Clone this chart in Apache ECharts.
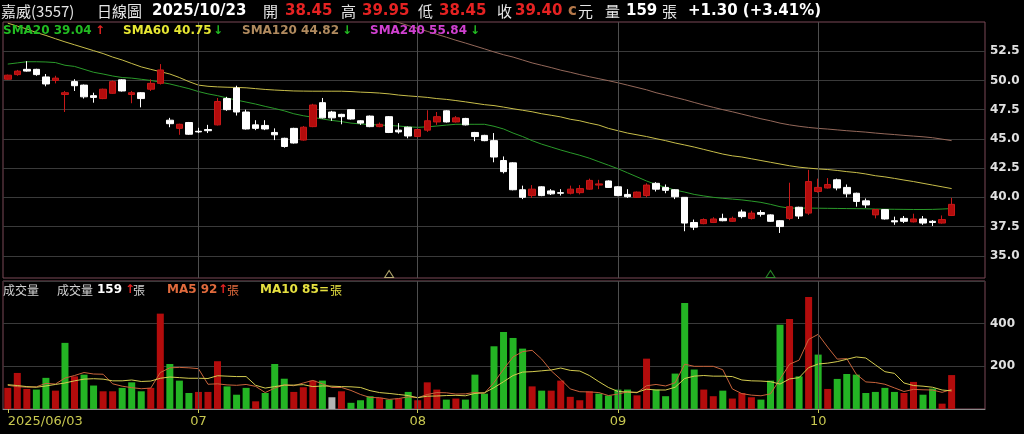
<!DOCTYPE html>
<html><head><meta charset="utf-8">
<script src="https://cdn.jsdelivr.net/npm/echarts@6/dist/echarts.min.js"></script>
<style>html,body{margin:0;padding:0;background:#000;}#c{width:1024px;height:434px;}</style>
</head><body><div id="c"></div>
<script>
const dates = [
'2025/06/03','2025/06/04','2025/06/05','2025/06/06','2025/06/09','2025/06/10','2025/06/11','2025/06/12','2025/06/13','2025/06/16',
'2025/06/17','2025/06/18','2025/06/19','2025/06/20','2025/06/23','2025/06/24','2025/06/25','2025/06/26','2025/06/27','2025/06/30',
'2025/07/01','2025/07/02','2025/07/03','2025/07/04','2025/07/07','2025/07/08','2025/07/09','2025/07/10','2025/07/11','2025/07/14',
'2025/07/15','2025/07/16','2025/07/17','2025/07/18','2025/07/21','2025/07/22','2025/07/23','2025/07/24','2025/07/25','2025/07/28',
'2025/07/29','2025/07/30','2025/07/31','2025/08/01','2025/08/04','2025/08/05','2025/08/06','2025/08/07','2025/08/08','2025/08/11',
'2025/08/12','2025/08/13','2025/08/14','2025/08/15','2025/08/18','2025/08/19','2025/08/20','2025/08/21','2025/08/22','2025/08/25',
'2025/08/26','2025/08/27','2025/08/28','2025/08/29','2025/09/01','2025/09/02','2025/09/03','2025/09/04','2025/09/05','2025/09/08',
'2025/09/09','2025/09/10','2025/09/11','2025/09/12','2025/09/15','2025/09/16','2025/09/17','2025/09/18','2025/09/19','2025/09/22',
'2025/09/23','2025/09/24','2025/09/25','2025/09/26','2025/09/30','2025/10/01','2025/10/02','2025/10/03','2025/10/07','2025/10/08',
'2025/10/09','2025/10/13','2025/10/14','2025/10/15','2025/10/16','2025/10/17','2025/10/20','2025/10/21','2025/10/22','2025/10/23'];
const padSlots = ['_1','_2','_3'];

const opens = [
50.1,50.5,50.95,50.95,50.3,50.0,48.8,49.9,49.6,48.7,
48.45,48.9,50.05,48.8,48.95,49.25,49.75,46.6,45.9,46.4,
45.65,45.8,46.2,48.45,49.35,47.3,46.2,46.15,45.55,45.05,
45.9,44.9,46.05,48.1,47.3,47.1,47.5,46.55,46.95,46.05,
46.9,45.75,46.0,45.2,45.75,46.45,47.4,46.45,46.75,45.55,
45.3,44.85,43.15,42.95,40.65,40.15,40.9,40.55,40.4,40.35,
40.4,40.7,41.05,41.4,40.9,40.25,40.0,40.15,41.2,40.85,
40.65,40.0,37.85,37.75,37.85,38.2,37.95,38.75,38.2,38.7,
38.5,38.0,38.2,39.15,38.65,40.5,40.8,41.5,40.85,40.35,
39.7,38.5,38.95,38.0,38.2,37.9,38.15,37.95,37.8,38.45];
const closes = [
50.45,50.8,50.8,50.5,49.7,50.2,48.95,49.55,48.6,48.55,
49.25,49.9,49.1,48.95,48.45,49.75,50.9,46.3,46.25,45.4,
45.6,45.7,48.2,47.5,47.3,45.85,45.9,45.85,45.35,44.35,
44.65,46.0,47.9,46.8,46.8,46.9,46.7,46.35,46.05,46.25,
45.55,45.6,45.25,45.8,46.55,46.9,46.45,46.8,46.2,45.2,
44.85,43.45,42.2,40.65,40.0,40.7,40.15,40.3,40.35,40.7,
40.75,41.45,41.15,40.85,40.15,40.05,40.45,41.05,40.7,40.6,
40.05,37.8,37.45,38.1,38.15,38.0,38.2,38.35,38.65,38.55,
37.95,37.5,39.2,38.4,41.35,40.85,41.1,40.8,40.3,39.65,
39.35,38.95,38.15,37.9,37.95,38.15,37.8,37.85,38.1,39.4];
const lows = [
50.05,50.4,50.75,50.4,49.5,49.75,47.3,49.1,48.45,48.1,
48.4,48.85,49.05,48.05,47.7,49.1,49.65,46.0,45.35,45.35,
45.5,45.5,46.15,47.4,47.0,45.8,45.75,45.75,44.9,44.25,
44.6,44.85,46.0,46.75,46.55,46.25,46.65,46.2,46.0,46.0,
45.5,45.45,45.05,45.15,45.6,46.2,46.4,46.4,46.15,44.8,
44.8,43.0,42.05,40.6,39.85,39.95,40.1,40.2,40.15,40.25,
40.25,40.65,40.7,40.8,40.1,39.95,39.95,40.0,40.5,40.35,
39.85,37.1,37.2,37.7,37.8,37.95,37.9,38.2,38.1,38.35,
37.9,36.95,38.05,38.15,38.5,40.4,40.75,40.6,40.0,39.2,
39.1,38.2,38.1,37.65,37.8,37.85,37.65,37.55,37.75,38.4];
const highs = [
50.5,50.9,51.65,51.0,50.55,50.4,49.1,50.1,49.65,48.95,
49.3,50.0,50.1,49.1,49.0,50.1,51.4,46.8,46.3,46.45,
45.95,46.2,48.5,48.6,49.55,47.5,46.6,46.6,45.9,45.1,
45.95,46.1,48.0,48.5,47.4,47.15,47.55,46.6,47.0,46.4,
46.95,46.35,46.05,45.85,47.45,47.3,47.45,46.95,46.8,45.6,
45.35,45.5,43.5,43.0,41.0,41.05,40.95,40.7,40.7,41.0,
41.05,41.6,41.5,41.45,40.95,40.7,40.5,41.2,41.3,41.1,
40.7,40.0,38.1,38.2,38.3,38.6,38.35,38.95,38.85,38.9,
38.55,38.05,41.25,39.2,42.35,41.6,41.65,41.6,41.1,40.4,
39.9,39.0,39.0,38.35,38.4,38.6,38.4,38.05,38.45,39.95];

const sma20 = [
51.4,51.5,51.6,51.6,51.58,51.53,51.3,51.2,50.95,50.7,
50.55,50.38,50.25,50.2,50.1,50.0,49.85,49.7,49.5,49.3,
49.05,48.85,48.7,48.5,48.32,48.15,47.98,47.78,47.6,47.4,
47.15,46.98,46.85,46.7,46.58,46.48,46.35,46.28,46.22,46.19,
46.15,46.1,46.03,45.99,46.03,46.1,46.18,46.25,46.25,46.25,
46.25,46.08,45.85,45.5,45.2,44.85,44.55,44.3,44.05,43.82,
43.6,43.35,43.05,42.75,42.45,42.1,41.75,41.4,41.1,40.85,
40.62,40.45,40.25,40.12,40.0,39.92,39.85,39.78,39.68,39.57,
39.4,39.2,39.08,39.08,39.08,39.07,39.06,39.05,39.04,39.03,
39.02,39.0,38.99,38.98,38.97,38.96,38.96,38.97,39.0,39.04];
const sma60 = [
54.9,54.65,54.4,54.1,53.85,53.57,53.3,53.05,52.8,52.55,
52.3,52.0,51.75,51.45,51.16,50.95,50.75,50.55,50.25,49.9,
49.6,49.5,49.45,49.42,49.4,49.37,49.3,49.23,49.18,49.14,
49.1,49.09,49.08,49.08,49.08,49.08,49.05,49.0,48.97,48.92,
48.85,48.75,48.68,48.62,48.55,48.45,48.38,48.28,48.17,48.05,
47.93,47.85,47.72,47.58,47.45,47.32,47.15,47.02,46.88,46.68,
46.55,46.35,46.18,45.9,45.7,45.5,45.35,45.2,45.02,44.85,
44.65,44.48,44.3,44.1,43.9,43.7,43.55,43.45,43.3,43.15,
43.0,42.85,42.7,42.58,42.5,42.43,42.38,42.3,42.2,42.12,
42.0,41.85,41.75,41.62,41.48,41.35,41.2,41.05,40.9,40.75];
const sma120 = [
null,null,null,null,null,null,null,null,null,null,
null,null,null,null,null,null,null,null,null,null,
null,null,null,null,null,null,null,null,null,null,
null,null,null,null,null,null,null,null,null,null,
55.2,54.95,54.7,54.45,54.2,53.95,53.7,53.44,53.2,52.95,
52.7,52.44,52.2,52.0,51.75,51.5,51.3,51.1,50.88,50.7,
50.5,50.32,50.15,49.98,49.8,49.6,49.4,49.2,48.95,48.75,
48.55,48.35,48.12,47.9,47.7,47.5,47.32,47.12,46.92,46.72,
46.55,46.35,46.2,46.08,45.98,45.9,45.84,45.77,45.7,45.64,
45.58,45.5,45.43,45.37,45.3,45.24,45.18,45.1,44.98,44.85];

const volumes = [
99,169,94,91,146,86,310,153,161,110,
83,83,99,125,83,99,447,211,133,75,
80,80,224,106,67,99,36,75,211,142,
80,102,133,133,55,83,29,41,60,52,
44,49,80,41,125,91,44,49,44,161,
72,294,361,333,283,106,86,86,133,57,
41,83,72,63,91,91,64,236,91,60,
166,497,185,91,60,86,49,75,55,44,
133,395,422,153,525,255,94,141,164,161,
75,80,99,80,75,127,67,96,25,159];
const volDir = ('uuuddududd'+'uuddduuddd'+'uuuddduddd'+'uuudfudddu'+'duduuududd'+
                'ddddduduuu'+'uudddduudd'+'ddduuduuud'+'ddudududdd'+'dddduudduu').split('');
const volMa5 = [
111,105,102,104,120,117,145,157,171,164,
163,118,107,100,95,98,171,193,195,193,
189,116,118,113,111,115,106,77,98,113,
109,122,134,118,101,101,87,68,54,53,
45,49,57,53,68,77,76,70,71,78,
74,124,186,244,269,275,234,179,139,94,
81,80,77,63,70,80,76,109,115,108,
123,210,200,200,200,184,94,72,65,62,
71,140,210,229,326,350,290,234,236,163,
127,124,116,99,82,92,90,89,78,92];
const volMa10 = [
114,110,105,102,108,115,122,132,140,142,
140,132,132,136,129,131,144,150,147,144,
144,143,156,154,152,152,111,98,105,112,
112,114,105,108,107,105,104,101,86,77,
73,68,63,53,60,61,63,64,62,73,
76,100,128,157,173,175,179,183,192,181,
178,157,128,101,82,80,78,93,89,89,
102,143,154,157,154,154,152,136,132,131,
128,117,141,147,194,211,215,222,233,244,
239,207,175,167,122,110,107,102,89,85];

const priceTicks = [35, 37.5, 40, 42.5, 45, 47.5, 50, 52.5];
const monthStarts = ['2025/06/03','2025/07/01','2025/08/01','2025/09/01','2025/10/01'];
const monthLabels = ['2025/06/03','07','08','09','10'];
const monthLines = ['2025/07/01','2025/08/01','2025/09/01','2025/10/01'];
const signalDates = ['2025/07/29','2025/09/23'];
const signalKinds = ['a','b'];

const PRICE_MIN = 33.1, PRICE_MAX = 55;
const cats = dates.concat(padSlots);
const RED = '#b30c0c', WHITE = '#ffffff', VGREEN = '#24b424';
const volColor = {u: '#b30c0c', d: '#24b424', f: '#b4b4b4'};
const sigColor = {a: '#d8cc84', b: '#2fa52f'};
const NUM = '"DejaVu Sans", Verdana, sans-serif';
const CJK = '"Noto Sans CJK TC", "Noto Sans CJK SC", sans-serif';

const chart = echarts.init(document.getElementById('c'), null, {renderer: 'canvas'});

function txt(x, y, text, fill, size, bold, fam) {
  return {type: 'text', x: x, y: y, silent: true, z: 100,
    style: {text: text, fill: fill, font: (bold ? 'bold ' : '') + size + 'px ' + (fam || NUM), verticalAlign: 'middle'}};
}
const HR = '#e52222';
const graphics = [
  txt(1, 11, '嘉威(3557)', '#e6e6e6', 15, false, CJK),
  txt(97, 11, '日線圖', '#e6e6e6', 15, false, CJK),
  txt(152, 11, '2025/10/23', '#ffffff', 15, true),
  txt(263, 11, '開', '#e6e6e6', 15, false, CJK),
  txt(285, 11, '38.45', HR, 15, true),
  txt(341, 11, '高', '#e6e6e6', 15, false, CJK),
  txt(362, 11, '39.95', HR, 15, true),
  txt(418, 11, '低', '#e6e6e6', 15, false, CJK),
  txt(439, 11, '38.45', HR, 15, true),
  txt(497, 11, '收', '#e6e6e6', 15, false, CJK),
  txt(515, 11, '39.40', HR, 15, true),
  txt(568, 11, 'c', '#b4784a', 15, true),
  txt(578, 11, '元', '#e6e6e6', 15, false, CJK),
  txt(605, 11, '量', '#e6e6e6', 15, false, CJK),
  txt(626, 11, '159', '#ffffff', 15, true),
  txt(662, 11, '張', '#e6e6e6', 15, false, CJK),
  txt(688, 11, '+1.30 (+3.41%)', '#ffffff', 15, true),

  txt(3, 31, 'SMA20 39.04', '#22bb22', 12, true),
  txt(95, 31, '↑', HR, 12, true),
  txt(123, 31, 'SMA60 40.75', '#e6e632', 12, true),
  txt(213, 31, '↓', '#22bb22', 12, true),
  txt(242, 31, 'SMA120 44.82', '#b08a5e', 12, true),
  txt(342, 31, '↓', '#22bb22', 12, true),
  txt(370, 31, 'SMA240 55.84', '#d040d0', 12, true),
  txt(470, 31, '↓', '#22bb22', 12, true),

  txt(3, 290, '成交量', '#d2d2d2', 12, false, CJK),
  txt(57, 290, '成交量', '#d2d2d2', 12, false, CJK),
  txt(97, 290, '159', '#ffffff', 12, true),
  txt(125, 290, '↑', HR, 12, true),
  txt(133, 290, '張', '#d2d2d2', 12, false, CJK),
  txt(167, 290, 'MA5 92', '#e06a3c', 12, true),
  txt(218, 290, '↑', HR, 12, true),
  txt(227, 290, '張', '#e06a3c', 12, false, CJK),
  txt(260, 290, 'MA10 85', '#e6e040', 12, true),
  txt(319, 290, '=', '#e6e040', 12, true),
  txt(330, 290, '張', '#e6e040', 12, false, CJK)
];

const monthMarkLine = {
  silent: true, symbol: 'none', label: {show: false},
  lineStyle: {color: '#4e4e4e', width: 1, type: 'solid'},
  emphasis: {disabled: true},
  data: monthLines.map(d => ({xAxis: d}))
};

const option = {
  backgroundColor: '#000000',
  animation: false,
  graphic: graphics,
  grid: [
    {left: 3, right: 39, top: 22, height: 256, show: true, borderColor: '#7a4856', borderWidth: 1, backgroundColor: 'transparent'},
    {left: 3, right: 39, top: 281, height: 128, show: true, borderColor: '#7a4856', borderWidth: 1, backgroundColor: 'transparent'}
  ],
  xAxis: [
    {type: 'category', gridIndex: 0, data: cats, boundaryGap: true,
     axisLine: {show: false}, axisTick: {show: false}, axisLabel: {show: false}, splitLine: {show: false}},
    {type: 'category', gridIndex: 1, data: cats, boundaryGap: true,
     axisLine: {show: true, lineStyle: {color: '#8a8a8a', width: 1}},
     axisTick: {show: true, alignWithLabel: true, length: 4, lineStyle: {color: '#c8c850'},
       interval: (i, v) => monthStarts.indexOf(v) >= 0},
     axisLabel: {show: true, color: '#c8c850', fontSize: 13, fontFamily: NUM, margin: 6,
       alignMinLabel: 'left',
       interval: (i, v) => monthStarts.indexOf(v) >= 0,
       formatter: v => { const k = monthStarts.indexOf(v); return k >= 0 ? monthLabels[k] : ''; }},
     splitLine: {show: false}}
  ],
  yAxis: [
    {type: 'value', gridIndex: 0, position: 'right', min: PRICE_MIN, max: PRICE_MAX, scale: true,
     axisLine: {show: false}, axisTick: {show: false, customValues: priceTicks},
     axisLabel: {show: true, customValues: priceTicks, color: '#e0e0e0', fontSize: 12, fontWeight: 'bold', fontFamily: NUM, margin: 5,
       formatter: v => Number(v).toFixed(1)},
     splitLine: {show: true, lineStyle: {color: '#3a3a3a', width: 1}}},
    {type: 'value', gridIndex: 1, position: 'right', min: 0, max: 600, interval: 200,
     axisLine: {show: false}, axisTick: {show: false},
     axisLabel: {show: true, color: '#e0e0e0', fontSize: 12, fontWeight: 'bold', fontFamily: NUM, margin: 5,
       showMinLabel: false, showMaxLabel: false},
     splitLine: {show: true, lineStyle: {color: '#3a3a3a', width: 1}}}
  ],
  series: [
    {type: 'candlestick', name: 'K', xAxisIndex: 0, yAxisIndex: 0, barWidth: 7,
     data: dates.map((d, i) => [opens[i], closes[i], lows[i], highs[i]]),
     itemStyle: {color: RED, color0: WHITE, borderColor: '#c81818', borderColor0: WHITE, borderWidth: 1},
     markLine: monthMarkLine, z: 5},
    {type: 'line', name: 'SMA20', xAxisIndex: 0, yAxisIndex: 0, data: sma20, showSymbol: false,
     lineStyle: {color: '#2a9a2a', width: 1}, z: 3},
    {type: 'line', name: 'SMA60', xAxisIndex: 0, yAxisIndex: 0, data: sma60, showSymbol: false,
     lineStyle: {color: '#c8be4a', width: 1}, z: 3},
    {type: 'line', name: 'SMA120', xAxisIndex: 0, yAxisIndex: 0, data: sma120, showSymbol: false,
     lineStyle: {color: '#94685a', width: 1}, z: 3},
    {type: 'scatter', name: 'signal', xAxisIndex: 0, yAxisIndex: 0, clip: false,
     symbol: 'triangle', symbolSize: [9, 7], symbolOffset: [0, -4],
     data: signalDates.map((d, i) => ({value: [d, PRICE_MIN],
       itemStyle: {color: 'rgba(0,0,0,0)', borderColor: sigColor[signalKinds[i]], borderWidth: 1}})), z: 6},
    {type: 'bar', name: 'VOL', xAxisIndex: 1, yAxisIndex: 1, barWidth: 7,
     data: volumes.map((v, i) => ({value: v, itemStyle: {color: volColor[volDir[i]]}})),
     markLine: monthMarkLine, z: 2},
    {type: 'line', name: 'MA5', xAxisIndex: 1, yAxisIndex: 1, data: volMa5, showSymbol: false,
     lineStyle: {color: '#c8643c', width: 1}, z: 4},
    {type: 'line', name: 'MA10', xAxisIndex: 1, yAxisIndex: 1, data: volMa10, showSymbol: false,
     lineStyle: {color: '#d4cc50', width: 1}, z: 4}
  ]
};
chart.setOption(option);
</script></body></html>
